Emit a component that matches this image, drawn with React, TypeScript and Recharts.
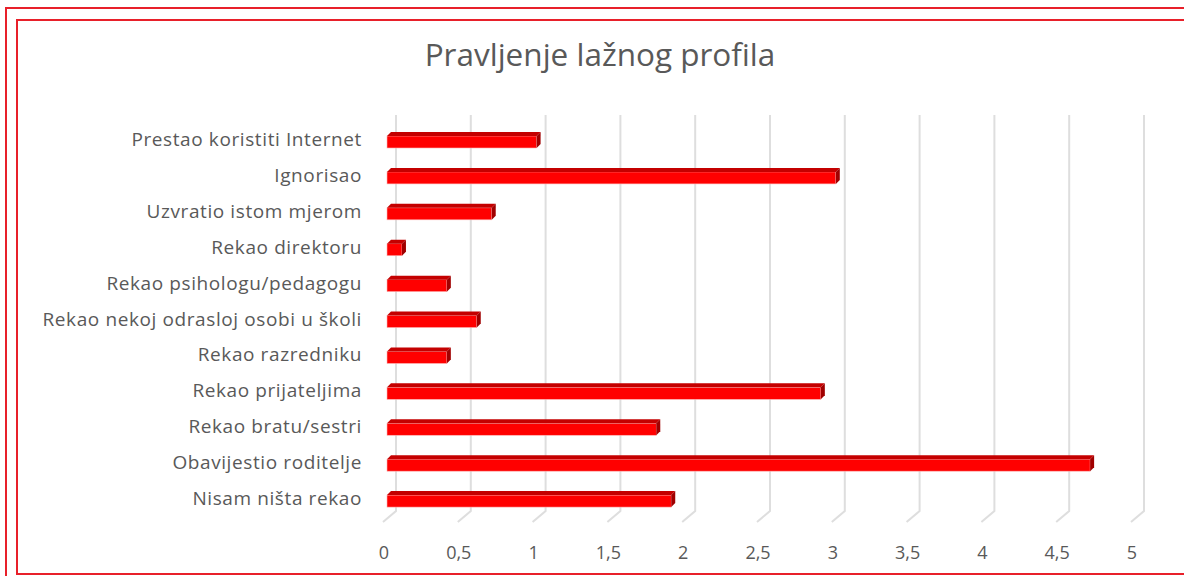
import { BarChart, Bar, XAxis, YAxis, CartesianGrid } from 'recharts'

const categories = [
  'Prestao koristiti Internet',
  'Ignorisao',
  'Uzvratio istom mjerom',
  'Rekao direktoru',
  'Rekao psihologu/pedagogu',
  'Rekao nekoj odrasloj osobi u školi',
  'Rekao razredniku',
  'Rekao prijateljima',
  'Rekao bratu/sestri',
  'Obavijestio roditelje',
  'Nisam ništa rekao',
]
const values = [1, 3, 0.7, 0.1, 0.4, 0.6, 0.4, 2.9, 1.8, 4.7, 1.9]
const xTicks = [0, 0.5, 1, 1.5, 2, 2.5, 3, 3.5, 4, 4.5, 5]

const data = categories.map((name, i) => ({ name, value: values[i] }))

const FONT = '"Open Sans", Lato, sans-serif'
const RED = '#e8202a'
const D = 4 // bar depth

function Bar3D(props: any) {
  const { x, y, width, height } = props
  if (width <= 0) return null
  const x1 = x + width
  return (
    <g>
      <rect x={x} y={y + D} width={width} height={height - D} fill="#ff0000" stroke="#ffb3b3" strokeWidth={0.6} />
      <path d={`M${x},${y + D} L${x + D},${y} L${x1 + D},${y} L${x1},${y + D} Z`} fill="#c40000" />
      <path d={`M${x1},${y + D} L${x1 + D},${y} L${x1 + D},${y + height - D} L${x1},${y + height} Z`} fill="#a00000" />
    </g>
  )
}

function GridLine(props: any) {
  const { x1, y1, y2 } = props
  return (
    <path
      key={props.key}
      d={`M${x1 + 9},${y1 - 7} L${x1 + 9},${y2 - 6} L${x1 - 4},${y2 + 5}`}
      fill="none"
      stroke="#dedede"
      strokeWidth={2}
    />
  )
}

function XTick(props: any) {
  const { x, y, payload } = props
  return (
    <text x={x - 3} y={y + 42} textAnchor="middle" fill="#595959" fontSize={18} fontFamily={FONT}>
      {String(payload.value).replace('.', ',')}
    </text>
  )
}

function YTick(props: any) {
  const { x, y, payload } = props
  return (
    <text x={x} y={y + 6} textAnchor="end" fill="#595959" fontSize={19} fontFamily={FONT} letterSpacing={0.6}>
      {payload.value}
    </text>
  )
}

export default function App() {
  return (
    <div style={{ position: 'absolute', left: 0, top: 0, width: 1184, height: 576, background: '#fff', overflow: 'hidden' }}>
      <div style={{ position: 'absolute', left: 5, top: 7, width: 1200, height: 600, border: `2px solid ${RED}` }} />
      <div style={{ position: 'absolute', left: 16, top: 19, width: 1200, height: 552, border: `2px solid ${RED}` }} />
      <div
        style={{
          position: 'absolute', left: 0, top: 32, width: 1200, textAlign: 'center',
          fontFamily: FONT, fontSize: 31.5, color: '#595959',
        }}
      >
        Pravljenje lažnog profila
      </div>
      <div style={{ position: 'absolute', left: 0, top: 0 }}>
        <BarChart
          width={1184}
          height={576}
          data={data}
          layout="vertical"
          margin={{ top: 122, right: 49, bottom: 19, left: 0 }}
          barCategoryGap="55%"
        >
          <CartesianGrid horizontal={false} vertical={GridLine as any} />
          <XAxis
            type="number"
            domain={[0, 5]}
            ticks={xTicks}
            axisLine={false}
            tickLine={false}
            tickSize={0}
            tickMargin={0}
            height={40}
            tick={<XTick />}
            interval={0}
          />
          <YAxis
            type="category"
            dataKey="name"
            width={387}
            axisLine={false}
            tickLine={false}
            tickSize={0}
            tickMargin={25}
            tick={<YTick />}
            interval={0}
          />
          <Bar dataKey="value" barSize={16} shape={<Bar3D />} isAnimationActive={false} />
        </BarChart>
      </div>
    </div>
  )
}
